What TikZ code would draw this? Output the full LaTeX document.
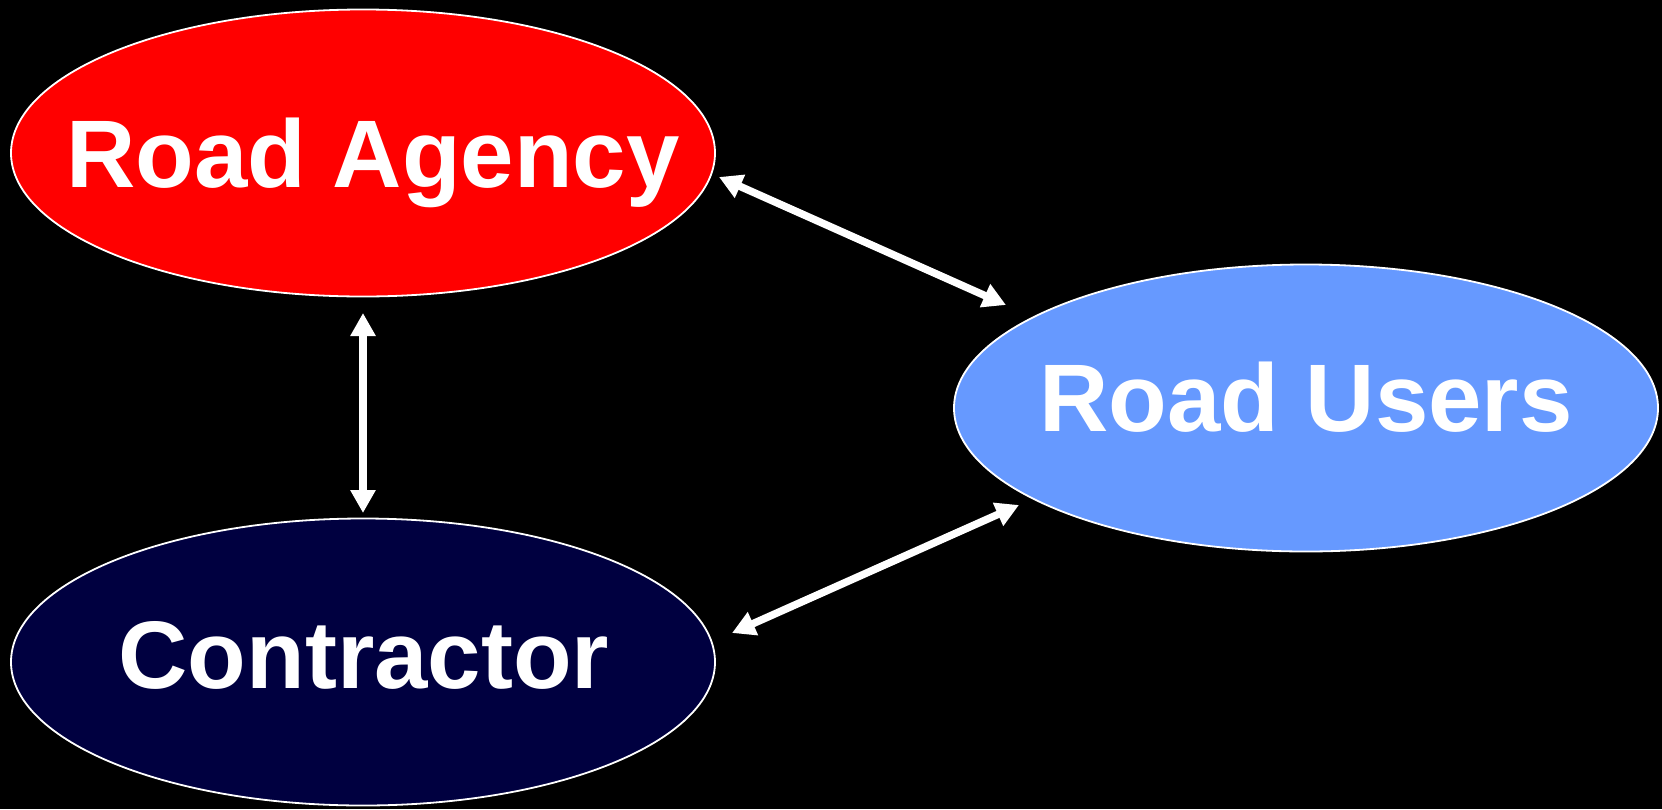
\documentclass[tikz,border=0pt]{standalone}
\usepackage{fontspec}
\setmainfont{Liberation Sans}
\usetikzlibrary{arrows.meta,shapes.geometric}
\definecolor{agencyred}{HTML}{FF0000}
\definecolor{userblue}{HTML}{6699FF}
\definecolor{contrnavy}{HTML}{000040}
\begin{document}
\begin{tikzpicture}[x=1pt,y=-1pt,
  oval/.style={ellipse,draw=white,line width=1.8pt,minimum width=704pt,minimum height=287pt,inner sep=0pt},
  lbl/.style={text=white,font=\bfseries\fontsize{96}{100}\selectfont,anchor=base,inner sep=0pt},
  link/.style={draw=white,line width=7.5pt,{Triangle[width=24pt,length=23pt]}-{Triangle[width=24pt,length=23pt]}}]
\fill[black] (0,0) rectangle (1662,809);
\useasboundingbox (0,0) rectangle (1662,809);
\node[oval,fill=agencyred] (ra) at (363,153) {};
\node[oval,fill=userblue] (ru) at (1306,408) {};
\node[oval,fill=contrnavy] (co) at (363,662) {};
\node[lbl] (ral) at (373,187) {Road Agency};
\node[lbl] (rul) at (1306,431) {Road Users};
\node[lbl] (col) at (364,688) {Contractor};
\coordinate (a1) at (719,177);
\coordinate (a2) at (1006,305);
\coordinate (b1) at (1019,505);
\coordinate (b2) at (732,633);
\coordinate (c1) at (363,313);
\coordinate (c2) at (363,513);
\draw[link] (a1) -- (a2);
\draw[link] (b1) -- (b2);
\draw[link] (c1) -- (c2);
\end{tikzpicture}
\end{document}
